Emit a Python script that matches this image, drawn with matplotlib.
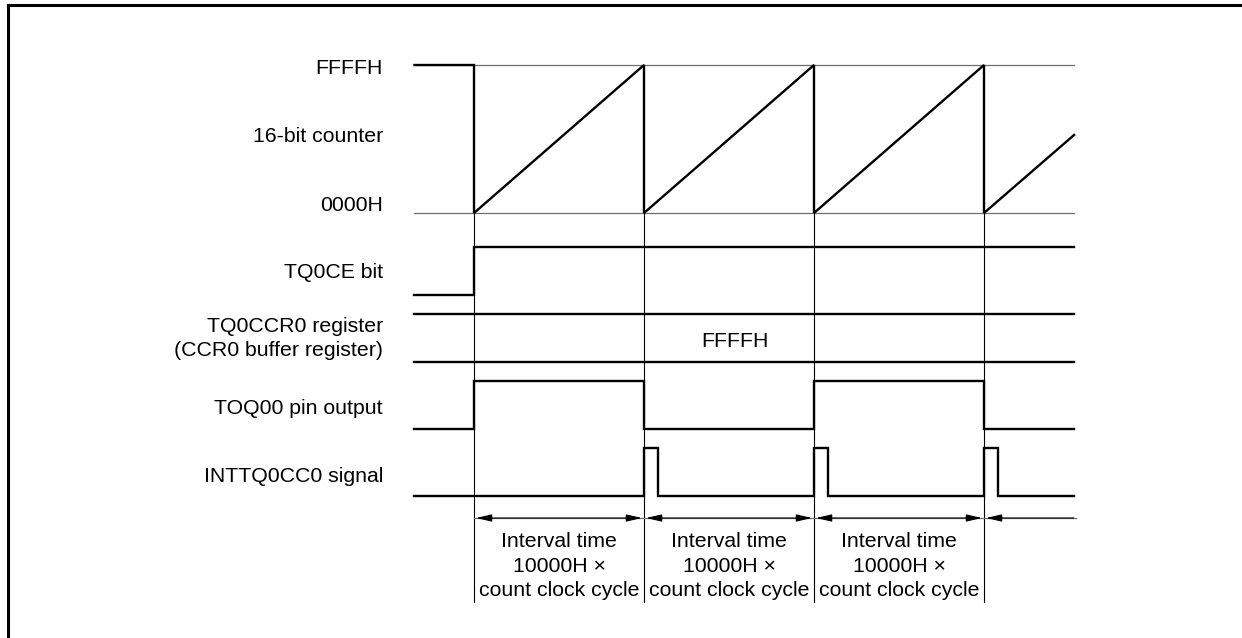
import matplotlib
matplotlib.use('Agg')
import matplotlib.pyplot as plt
from matplotlib.lines import Line2D

plt.rcParams['font.family'] = ['Liberation Sans', 'DejaVu Sans']

# timing data, time in counter periods (0 = counting starts)
t_start, t_end = -0.35, 3.53
overflows = [0, 1, 2, 3]

counter_t = [t_start, 0, 0, 1, 1, 2, 2, 3, 3, t_end]
counter_v = [0xFFFF, 0xFFFF, 0, 0xFFFF, 0, 0xFFFF, 0, 0xFFFF, 0, 0x8700]

ce_t = [t_start, 0, 0, t_end]
ce_v = [0, 0, 1, 1]

toq_t = [t_start, 0, 0, 1, 1, 2, 2, 3, 3, t_end]
toq_v = [0, 0, 1, 1, 0, 0, 1, 1, 0, 0]

int_t = [t_start, 1, 1, 1.085, 1.085, 2, 2, 2.085, 2.085, 3, 3, 3.085, 3.085, t_end]
int_v = [0, 0, 1, 1, 0, 0, 1, 1, 0, 0, 1, 1, 0, 0]

ccr_value = 'FFFFH'
interval_text = 'Interval time\n10000H \u00d7\ncount clock cycle'

row_labels = [('FFFFH', 74), ('16-bit counter', 142), ('0000H', 211), ('TQ0CE bit', 278),
              ('TQ0CCR0 register', 332), ('(CCR0 buffer register)', 356),
              ('TOQ00 pin output', 414), ('INTTQ0CC0 signal', 482)]

# layout (pixel rows, y grows downward)
W, H = 1242, 638
X0, PERIOD = 474, 170
fig = plt.figure(figsize=(W / 100, H / 100), dpi=100)
ax = fig.add_axes([0, 0, 1, 1])
ax.set_xlim(-X0 / PERIOD, (W - X0) / PERIOD)
ax.set_ylim(H, 0)
ax.axis('off')


def tx(px):
    return (px - X0) / PERIOD


def level(v, high_y, low_y, full=1):
    return [low_y + (high_y - low_y) * x / full for x in v]


thick = dict(color='black', lw=1.7, solid_joinstyle='miter')
thin = dict(color='#6e6e6e', lw=0.9)
FS = 15.3

# counter
ax.plot([t_start, t_end], [65, 65], **thin)
ax.plot([t_start, t_end], [213, 213], **thin)
ax.plot(counter_t, level(counter_v, 65, 213, 0xFFFF), **thick)

# guides
for t in overflows:
    ax.plot([t, t], [213, 602], color='black', lw=0.8)

ax.plot(ce_t, level(ce_v, 247, 295), **thick)

ax.plot([t_start, t_end], [314, 314], **thick)
ax.plot([t_start, t_end], [362, 362], **thick)
ax.text(tx(735), 347, ccr_value, ha='center', va='baseline', fontsize=FS)

ax.plot(toq_t, level(toq_v, 381, 428.5), **thick)
ax.plot(int_t, level(int_v, 448, 495.5), **thick)

# interval arrows
ax.plot([overflows[0], t_end + 0.01], [518, 518], **thin)
bounds = overflows + [t_end + 0.01]
for a, b in zip(bounds[:-1], bounds[1:]):
    style = '<|-|>' if b <= overflows[-1] else '<|-'
    ax.annotate('', xy=(b - 0.012, 518), xytext=(a + 0.012, 518),
                arrowprops=dict(arrowstyle=style + ',head_length=0.95,head_width=0.22',
                                mutation_scale=10, color='black', lw=0.8,
                                shrinkA=0, shrinkB=0))
for a, b in zip(overflows[:-1], overflows[1:]):
    ax.text((a + b) / 2, 596, interval_text, ha='center', va='baseline',
            fontsize=FS, linespacing=1.36)

for text, y in row_labels:
    ax.text(tx(383), y, text, ha='right', va='baseline', fontsize=FS)

# frame (left and top only)
fig.add_artist(Line2D([8 / W, 8 / W], [0, 1 - 5 / H], color='black', lw=2.2))
fig.add_artist(Line2D([8 / W, 1], [1 - 5 / H, 1 - 5 / H], color='black', lw=2.2))

fig.savefig('out.png', dpi=100, facecolor='white')
